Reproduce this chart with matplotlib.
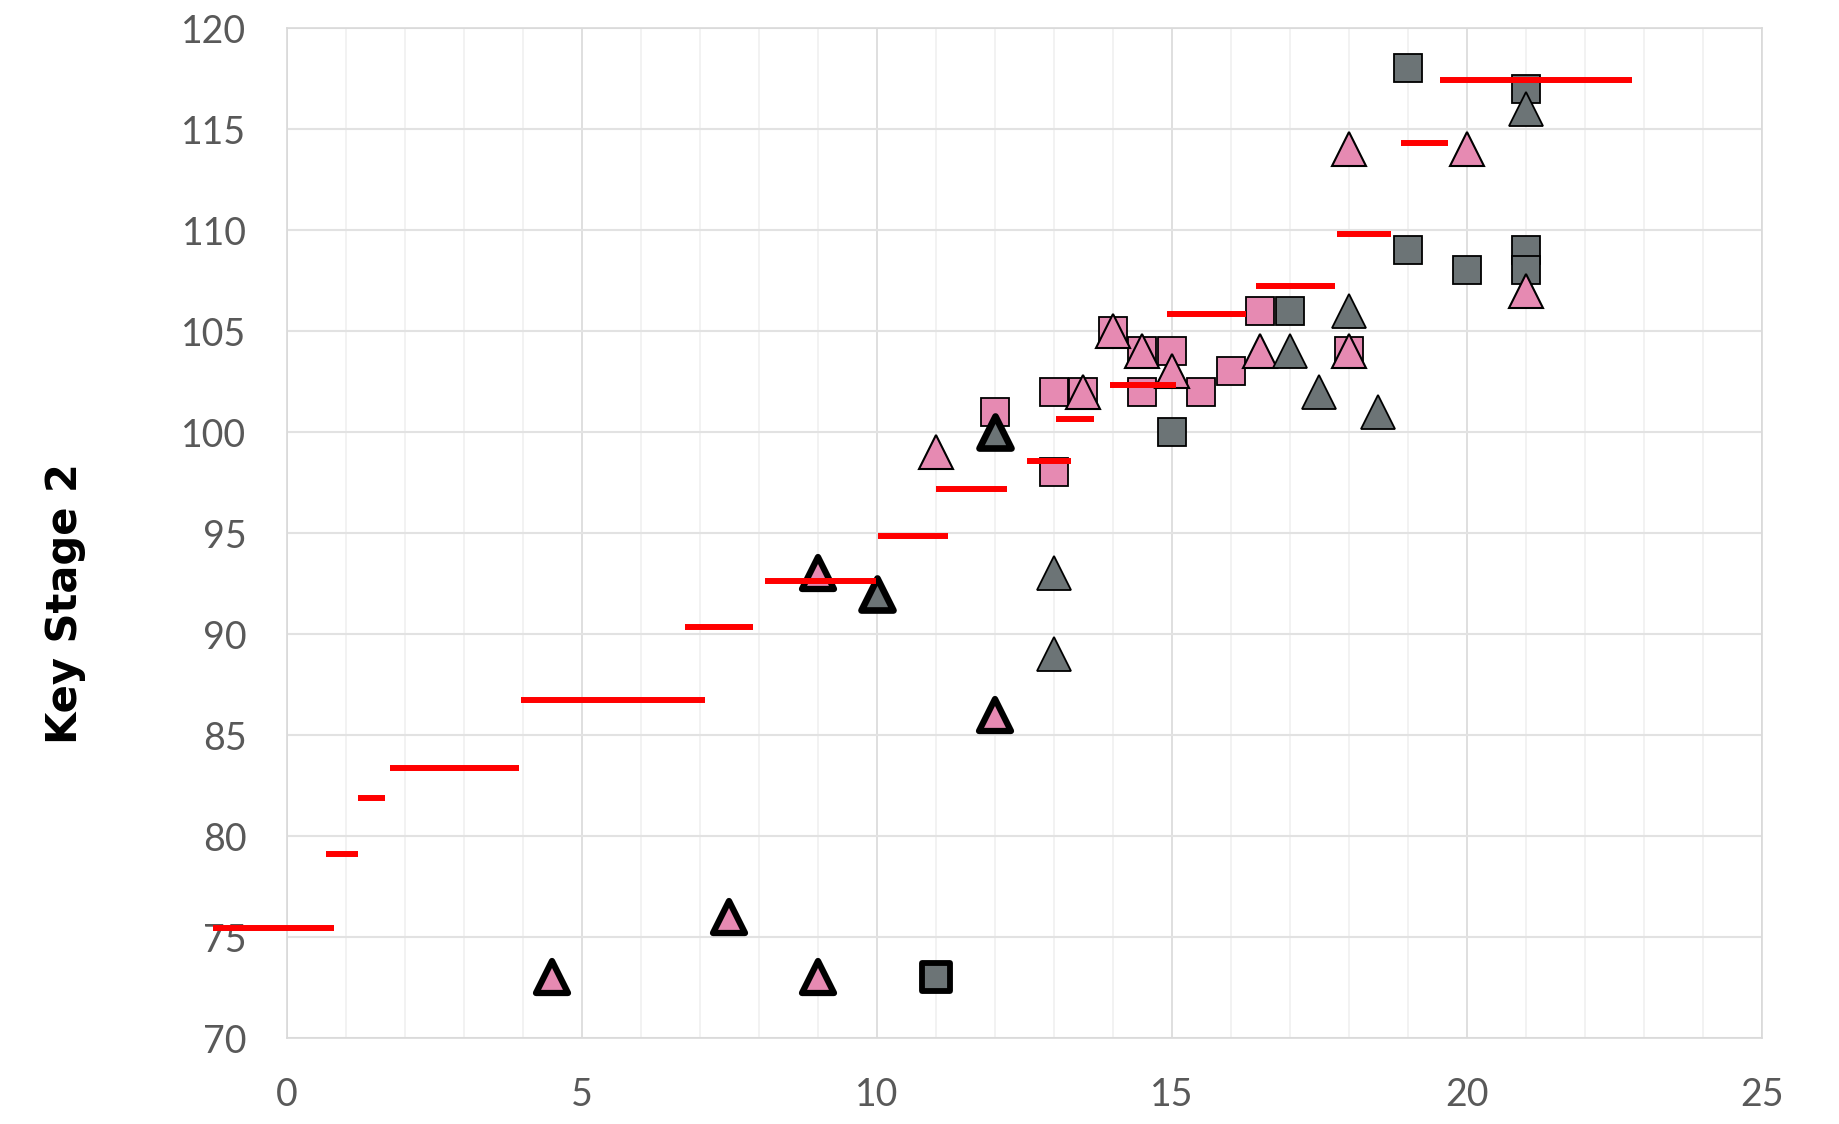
import matplotlib
matplotlib.use("Agg")
import matplotlib.pyplot as plt
from matplotlib.markers import MarkerStyle

# pupil points, split by colour / marker / outline weight
pink_tri_x = [11, 13.5, 14, 14.5, 15, 16.5, 18, 18, 20, 21]
pink_tri_y = [99, 102, 105, 104, 103, 104, 114, 104, 114, 107]
pink_tri_bold_x = [4.5, 7.5, 9, 9, 12]
pink_tri_bold_y = [73, 76, 73, 93, 86]
grey_tri_x = [13, 13, 17, 17.5, 18, 18.5, 21]
grey_tri_y = [93, 89, 104, 102, 106, 101, 116]
grey_tri_bold_x = [10, 12]
grey_tri_bold_y = [92, 100]
pink_sq_x = [12, 13, 13, 13.5, 14, 14.5, 14.5, 15, 15.5, 16, 16.5, 18]
pink_sq_y = [101, 102, 98, 102, 105, 104, 102, 104, 102, 103, 106, 104]
grey_sq_x = [15, 17, 19, 19, 20, 21, 21, 21]
grey_sq_y = [100, 106, 118, 109, 108, 117, 109, 108]
grey_sq_bold_x = [11]
grey_sq_bold_y = [73]

# red step segments (start, end, level)
step_x0 = [-1.25, 0.66, 1.21, 1.74, 3.97, 6.75, 8.11, 10.02, 11.0, 12.54, 13.04,
           13.96, 14.91, 16.43, 17.80, 18.88, 19.55]
step_x1 = [0.80, 1.21, 1.66, 3.93, 7.08, 7.90, 9.99, 11.20, 12.2, 13.29, 13.68,
           15.07, 16.26, 17.76, 18.71, 19.68, 22.8]
step_y = [75.44, 79.13, 81.9, 83.37, 86.72, 90.37, 92.65, 94.87, 97.2, 98.55, 100.66,
          102.34, 105.87, 107.23, 109.83, 114.3, 117.44]

x_ticks = [0, 5, 10, 15, 20, 25]
y_ticks = [70, 75, 80, 85, 90, 95, 100, 105, 110, 115, 120]

PINK = "#E68AB2"
GREY = "#6C7476"

fig = plt.figure(figsize=(18.39, 11.24), dpi=100)
ax = fig.add_axes([0.156, 0.0765, 0.802, 0.8985])

tri = MarkerStyle("^", joinstyle="round")
sq = MarkerStyle("s", joinstyle="round")

ax.plot(pink_sq_x, pink_sq_y, ls="none", marker="s", ms=20.5, mfc=PINK, mec="black", mew=1.3, zorder=3)
ax.plot(grey_sq_x, grey_sq_y, ls="none", marker="s", ms=20.5, mfc=GREY, mec="black", mew=1.3, zorder=3)
ax.plot(grey_sq_bold_x, grey_sq_bold_y, ls="none", marker=sq, ms=20, mfc=GREY, mec="black", mew=4.2, zorder=3)
ax.plot(pink_tri_x, pink_tri_y, ls="none", marker="^", ms=24, mfc=PINK, mec="black", mew=1.5, zorder=4)
ax.plot(grey_tri_x, grey_tri_y, ls="none", marker="^", ms=24, mfc=GREY, mec="black", mew=1.3, zorder=4)
ax.plot(pink_tri_bold_x, pink_tri_bold_y, ls="none", marker=tri, ms=23.5, mfc=PINK, mec="black", mew=4.5, zorder=4)
ax.plot(grey_tri_bold_x, grey_tri_bold_y, ls="none", marker=tri, ms=23.5, mfc=GREY, mec="black", mew=4.8, zorder=4)

ax.hlines(step_y, step_x0, step_x1, colors="#FF0000", linewidth=4.3, zorder=5, clip_on=False)

ax.set_xlim(0, 25)
ax.set_ylim(70, 120)
ax.set_xticks(x_ticks)
ax.set_yticks(y_ticks)
ax.set_xticks(range(0, 26), minor=True)
ax.grid(which="major", axis="x", color="#D9D9D9", linewidth=1.2)
ax.grid(which="minor", axis="x", color="#F0F0F0", linewidth=1.2)
ax.grid(which="major", axis="y", color="#E2E2E2", linewidth=1.5)
ax.set_axisbelow(True)
for s in ax.spines.values():
    s.set_color("#D9D9D9")
    s.set_linewidth(1.2)

ax.tick_params(which="both", length=0)
ax.tick_params(axis="x", pad=28)
ax.tick_params(axis="y", pad=29)
for lab in ax.get_xticklabels() + ax.get_yticklabels():
    lab.set_family("Lato")
    lab.set_fontsize(27)
    lab.set_color("#595959")

fig.text(65 / 1839, 1 - 604 / 1124, "Key Stage 2", rotation=90, ha="center", va="center",
         fontsize=30, fontweight="bold", family="DejaVu Sans")

fig.savefig("out.png", dpi=100)
